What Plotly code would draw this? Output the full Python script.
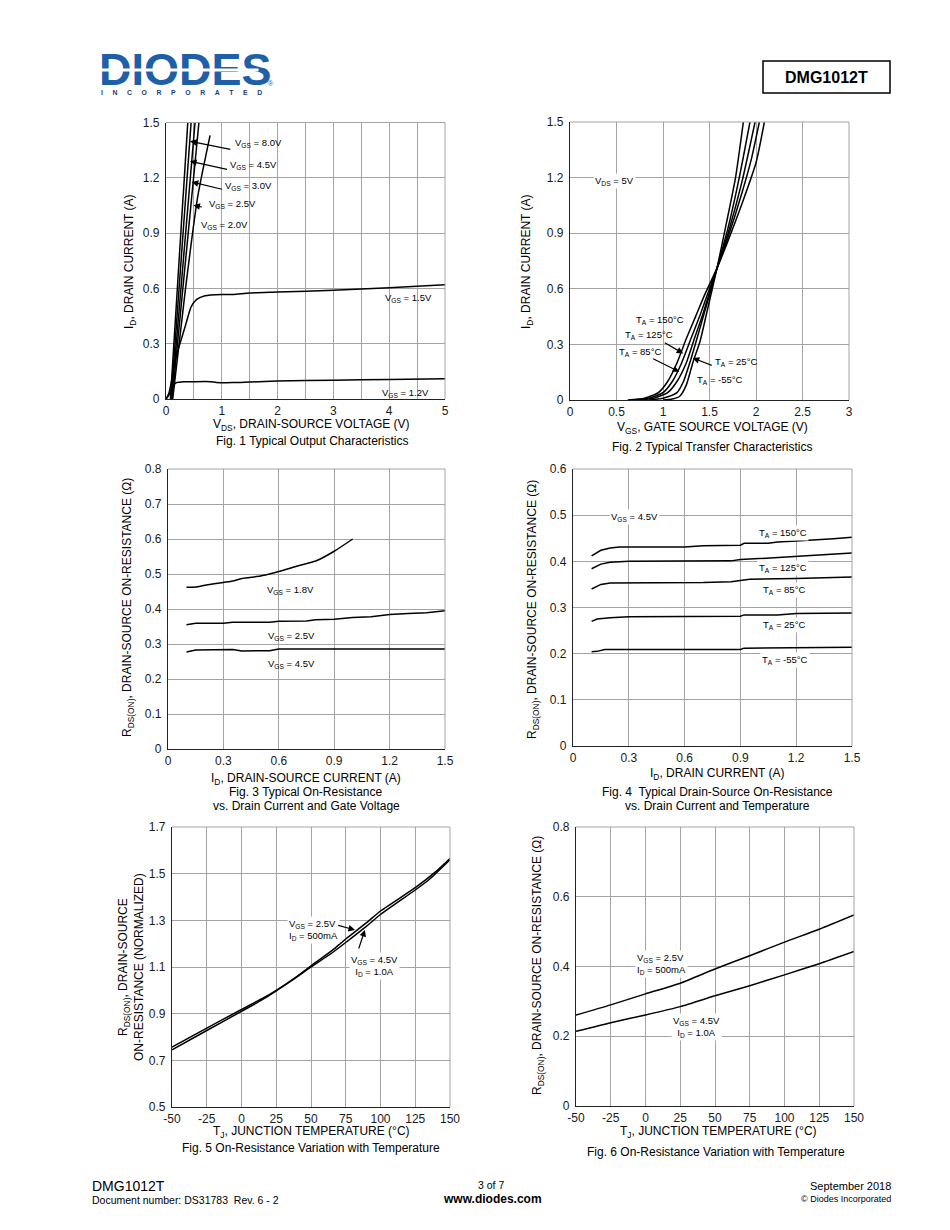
import plotly.graph_objects as go

W, H = 950, 1230
FONT = "Liberation Sans, Arial, Helvetica, sans-serif"

# ---------------- Fig 1 data: output characteristics ----------------
f1_vgs80_v = [0.08, 0.39]
f1_vgs80_i = [0.0, 1.5]
f1_vgs45_v = [0.09, 0.45]
f1_vgs45_i = [0.0, 1.5]
f1_vgs30_v = [0.10, 0.52]
f1_vgs30_i = [0.0, 1.5]
f1_vgs25_v = [0.11, 0.59]
f1_vgs25_i = [0.0, 1.5]
f1_vgs20_v = [0.12, 0.35, 0.57, 0.79]
f1_vgs20_i = [0.0, 0.6, 1.1, 1.43]
f1_vgs15_v = [0.0, 0.05, 0.1, 0.15, 0.25, 0.35, 0.45, 0.55, 0.7, 1.0, 1.2, 1.5, 2.0, 3.0, 4.0, 5.0]
f1_vgs15_i = [0.0, 0.03, 0.1, 0.2, 0.3, 0.4, 0.5, 0.54, 0.56, 0.567, 0.567, 0.575, 0.58, 0.59, 0.603, 0.62]
f1_vgs12_v = [0.0, 0.05, 0.1, 0.15, 0.2, 0.3, 0.5, 0.8, 0.9, 1.2, 1.5, 2.0, 3.0, 4.0, 5.0]
f1_vgs12_i = [0.0, 0.02, 0.05, 0.08, 0.09, 0.093, 0.094, 0.094, 0.09, 0.089, 0.092, 0.097, 0.102, 0.106, 0.11]

# ---------------- Fig 2 data: transfer characteristics ----------------
f2_150_v = [0.62, 0.8, 0.95, 1.05, 1.15, 1.25, 1.35, 1.45, 1.58, 1.7, 1.85, 2.0, 2.09]
f2_150_i = [0.0, 0.01, 0.04, 0.1, 0.2, 0.33, 0.45, 0.57, 0.71, 0.86, 1.06, 1.28, 1.5]
f2_125_v = [0.7, 0.85, 1.0, 1.1, 1.2, 1.3, 1.4, 1.5, 1.58, 1.7, 1.85, 1.95, 2.036]
f2_125_i = [0.0, 0.01, 0.04, 0.1, 0.2, 0.33, 0.46, 0.6, 0.71, 0.88, 1.12, 1.3, 1.5]
f2_85_v = [0.75, 0.9, 1.05, 1.15, 1.25, 1.33, 1.42, 1.5, 1.58, 1.7, 1.85, 1.99]
f2_85_i = [0.0, 0.01, 0.04, 0.1, 0.2, 0.32, 0.45, 0.58, 0.71, 0.9, 1.18, 1.5]
f2_25_v = [0.85, 1.0, 1.15, 1.22, 1.3, 1.37, 1.45, 1.52, 1.58, 1.7, 1.82, 1.935]
f2_25_i = [0.0, 0.01, 0.04, 0.1, 0.22, 0.34, 0.48, 0.6, 0.71, 0.93, 1.2, 1.5]
f2_m55_v = [1.0, 1.1, 1.18, 1.25, 1.32, 1.4, 1.47, 1.53, 1.58, 1.68, 1.78, 1.864]
f2_m55_i = [0.0, 0.005, 0.02, 0.08, 0.2, 0.32, 0.47, 0.6, 0.71, 0.95, 1.2, 1.5]

# ---------------- Fig 3 data: RDS(on) vs ID and VGS ----------------
f3_18_i = [0.1, 0.15, 0.2, 0.3, 0.35, 0.4, 0.5, 0.55, 0.6, 0.7, 0.8, 0.9, 1.0]
f3_18_r = [0.462, 0.463, 0.468, 0.476, 0.48, 0.487, 0.494, 0.5, 0.507, 0.523, 0.537, 0.565, 0.6]
f3_25_i = [0.1, 0.15, 0.3, 0.35, 0.55, 0.6, 0.75, 0.8, 0.9, 1.0, 1.1, 1.2, 1.3, 1.4, 1.5]
f3_25_r = [0.355, 0.359, 0.359, 0.362, 0.362, 0.365, 0.366, 0.369, 0.371, 0.376, 0.378, 0.384, 0.387, 0.389, 0.395]
f3_45_i = [0.1, 0.15, 0.35, 0.4, 0.55, 0.6, 1.5]
f3_45_r = [0.277, 0.283, 0.284, 0.28, 0.281, 0.286, 0.286]

# ---------------- Fig 4 data: RDS(on) vs ID and temperature ----------------
f4_150_i = [0.1, 0.15, 0.2, 0.25, 0.6, 0.7, 0.9, 0.92, 1.05, 1.1, 1.2, 1.3, 1.4, 1.5]
f4_150_r = [0.412, 0.424, 0.429, 0.431, 0.431, 0.434, 0.435, 0.439, 0.439, 0.442, 0.444, 0.446, 0.449, 0.452]
f4_125_i = [0.1, 0.15, 0.2, 0.3, 0.85, 0.9, 1.0, 1.1, 1.3, 1.5]
f4_125_r = [0.384, 0.394, 0.398, 0.4, 0.401, 0.404, 0.406, 0.408, 0.413, 0.418]
f4_85_i = [0.1, 0.15, 0.2, 0.7, 0.85, 0.9, 0.95, 1.2, 1.5]
f4_85_r = [0.34, 0.35, 0.353, 0.354, 0.356, 0.358, 0.361, 0.363, 0.366]
f4_25_i = [0.1, 0.13, 0.2, 0.3, 0.9, 0.92, 1.1, 1.2, 1.5]
f4_25_r = [0.27, 0.275, 0.278, 0.28, 0.281, 0.284, 0.284, 0.287, 0.288]
f4_m55_i = [0.1, 0.13, 0.17, 0.9, 0.92, 1.5]
f4_m55_r = [0.204, 0.205, 0.209, 0.209, 0.212, 0.214]

# ---------------- Fig 5 data: normalized RDS(on) vs TJ ----------------
f5_25_t = [-50, -25, 0, 15, 25, 40, 50, 65, 75, 90, 100, 125, 140, 150]
f5_25_r = [0.757, 0.838, 0.918, 0.965, 1.0, 1.06, 1.105, 1.17, 1.22, 1.29, 1.34, 1.44, 1.51, 1.565]
f5_45_t = [-50, -25, 0, 15, 25, 40, 50, 65, 75, 90, 100, 125, 135, 150]
f5_45_r = [0.745, 0.828, 0.91, 0.96, 0.998, 1.058, 1.1, 1.16, 1.205, 1.275, 1.325, 1.43, 1.475, 1.56]

# ---------------- Fig 6 data: RDS(on) vs TJ ----------------
f6_t = [-50, -25, 0, 25, 50, 75, 100, 125, 150]
f6_25_r = [0.261, 0.29, 0.3215, 0.352, 0.393, 0.431, 0.47, 0.507, 0.548]
f6_45_r = [0.214, 0.239, 0.261, 0.285, 0.316, 0.345, 0.376, 0.408, 0.443]

# ---------------- tick labels ----------------
f1_xticks = [0, 1, 2, 3, 4, 5]
f1_xlabels = ["0", "1", "2", "3", "4", "5"]
f1_yticks = [0, 0.3, 0.6, 0.9, 1.2, 1.5]
f1_ylabels = ["0", "0.3", "0.6", "0.9", "1.2", "1.5"]
f2_xticks = [0, 0.5, 1, 1.5, 2, 2.5, 3]
f2_xlabels = ["0", "0.5", "1", "1.5", "2", "2.5", "3"]
f3_xticks = [0, 0.3, 0.6, 0.9, 1.2, 1.5]
f3_xlabels = ["0", "0.3", "0.6", "0.9", "1.2", "1.5"]
f3_yticks = [0, 0.1, 0.2, 0.3, 0.4, 0.5, 0.6, 0.7, 0.8]
f3_ylabels = ["0", "0.1", "0.2", "0.3", "0.4", "0.5", "0.6", "0.7", "0.8"]
f4_yticks = [0, 0.1, 0.2, 0.3, 0.4, 0.5, 0.6]
f4_ylabels = ["0", "0.1", "0.2", "0.3", "0.4", "0.5", "0.6"]
t_ticks = [-50, -25, 0, 25, 50, 75, 100, 125, 150]
t_labels = ["-50", "-25", "0", "25", "50", "75", "100", "125", "150"]
f5_yticks = [0.5, 0.7, 0.9, 1.1, 1.3, 1.5, 1.7]
f5_ylabels = ["0.5", "0.7", "0.9", "1.1", "1.3", "1.5", "1.7"]
f6_yticks = [0, 0.2, 0.4, 0.6, 0.8]
f6_ylabels = ["0", "0.2", "0.4", "0.6", "0.8"]

# plot areas in page pixels (x0, x1, y0top, y1bottom)
DOMS = {
    1: (166, 445, 122.5, 399),
    2: (570, 849, 122, 400),
    3: (168, 445, 469, 749),
    4: (573, 852, 469, 746),
    5: (172, 450, 827, 1107),
    6: (576, 854, 827, 1106),
}

fig = go.Figure()
LW = 1.5


def ref(i):
    return ("x" if i == 1 else f"x{i}"), ("y" if i == 1 else f"y{i}")


def add_line(i, xs, ys, shape="spline"):
    xr, yr = ref(i)
    fig.add_trace(go.Scatter(x=xs, y=ys, mode="lines", xaxis=xr, yaxis=yr,
                             line=dict(color="black", width=LW, shape=shape, smoothing=0.6),
                             showlegend=False, hoverinfo="skip"))


add_line(1, f1_vgs80_v, f1_vgs80_i, "linear")
add_line(1, f1_vgs45_v, f1_vgs45_i, "linear")
add_line(1, f1_vgs30_v, f1_vgs30_i, "linear")
add_line(1, f1_vgs25_v, f1_vgs25_i, "linear")
add_line(1, f1_vgs20_v, f1_vgs20_i)
add_line(1, f1_vgs15_v, f1_vgs15_i)
add_line(1, f1_vgs12_v, f1_vgs12_i)

add_line(2, f2_150_v, f2_150_i)
add_line(2, f2_125_v, f2_125_i)
add_line(2, f2_85_v, f2_85_i)
add_line(2, f2_25_v, f2_25_i)
add_line(2, f2_m55_v, f2_m55_i)

add_line(3, f3_18_i, f3_18_r)
add_line(3, f3_25_i, f3_25_r, "linear")
add_line(3, f3_45_i, f3_45_r, "linear")

add_line(4, f4_150_i, f4_150_r, "linear")
add_line(4, f4_125_i, f4_125_r, "linear")
add_line(4, f4_85_i, f4_85_r, "linear")
add_line(4, f4_25_i, f4_25_r, "linear")
add_line(4, f4_m55_i, f4_m55_r, "linear")

add_line(5, f5_25_t, f5_25_r)
add_line(5, f5_45_t, f5_45_r)

add_line(6, f6_t, f6_25_r)
add_line(6, f6_t, f6_45_r)

GRID = "#a3a3a3"
TICKFONT = dict(family=FONT, size=12, color="#1a1a1a")


def axis_pair(i, xr, yr, xt, xl, yt, yl, xminor=None):
    x0, x1, yt0, yb = DOMS[i]
    common = dict(showgrid=True, gridcolor=GRID, gridwidth=1, showline=True, linecolor="#222",
                  linewidth=1.2, ticks="", zeroline=False, tickfont=TICKFONT, fixedrange=True,
                  automargin=False)
    xa = dict(domain=[x0 / W, x1 / W], range=xr, tickvals=xt, ticktext=xl, anchor=ref(i)[1],
              ticklabelstandoff=0, **common)
    if xminor is not None:
        xa["minor"] = dict(dtick=xminor, tick0=0, showgrid=True, gridcolor=GRID, gridwidth=1, ticks="")
    ya = dict(domain=[1 - yb / H, 1 - yt0 / H], range=yr, tickvals=yt, ticktext=yl, anchor=ref(i)[0],
              ticklabelstandoff=3, **common)
    kx = "xaxis" if i == 1 else f"xaxis{i}"
    ky = "yaxis" if i == 1 else f"yaxis{i}"
    fig.update_layout(**{kx: xa, ky: ya})


axis_pair(1, [0, 5], [0, 1.5], f1_xticks, f1_xlabels, f1_yticks, f1_ylabels, xminor=0.5)
axis_pair(2, [0, 3], [0, 1.5], f2_xticks, f2_xlabels, f1_yticks, f1_ylabels)
axis_pair(3, [0, 1.5], [0, 0.8], f3_xticks, f3_xlabels, f3_yticks, f3_ylabels)
axis_pair(4, [0, 1.5], [0, 0.6], f3_xticks, f3_xlabels, f4_yticks, f4_ylabels)
axis_pair(5, [-50, 150], [0.5, 1.7], t_ticks, t_labels, f5_yticks, f5_ylabels)
axis_pair(6, [-50, 150], [0, 0.8], t_ticks, t_labels, f6_yticks, f6_ylabels)

shapes = []
for i in range(1, 7):
    xr, yr = ref(i)
    shapes.append(dict(type="line", xref=f"{xr} domain", yref=f"{yr} domain", x0=0, x1=1, y0=1, y1=1,
                       line=dict(color=GRID, width=1)))
    shapes.append(dict(type="line", xref=f"{xr} domain", yref=f"{yr} domain", x0=1, x1=1, y0=0, y1=1,
                       line=dict(color=GRID, width=1)))
# part number box
shapes.append(dict(type="rect", xref="paper", yref="paper", x0=763 / W, x1=890 / W,
                   y0=1 - 93 / H, y1=1 - 61 / H, line=dict(color="black", width=1.5)))

ann = []
SMALL = 9.5


def txt(i, x, y, s, xanchor="left", bg=None, align="left"):
    xr, yr = ref(i)
    d = dict(x=x, y=y, xref=xr, yref=yr, text=s, showarrow=False, xanchor=xanchor, yanchor="middle",
             font=dict(family=FONT, size=SMALL, color="black"), align=align)
    if bg:
        d["bgcolor"] = bg
        d["borderpad"] = 1
    ann.append(d)


def arrow(i, hx, hy, tx, ty):
    xr, yr = ref(i)
    ann.append(dict(x=hx, y=hy, ax=tx, ay=ty, xref=xr, yref=yr, axref=xr, ayref=yr, text="",
                    showarrow=True, arrowhead=2, arrowsize=1.1, arrowwidth=1.2, arrowcolor="black"))


# Fig 1 labels
arrow(1, 0.43, 1.398, 1.18, 1.353)
arrow(1, 0.43, 1.29, 1.12, 1.244)
arrow(1, 0.46, 1.177, 1.03, 1.136)
arrow(1, 0.49, 1.051, 0.67, 1.04)
txt(1, 1.195, 1.389, "V<sub>GS</sub> = 8.0V")
txt(1, 1.11, 1.271, "V<sub>GS</sub> = 4.5V")
txt(1, 1.02, 1.157, "V<sub>GS</sub> = 3.0V")
txt(1, 0.73, 1.058, "V<sub>GS</sub> = 2.5V")
txt(1, 0.59, 0.944, "V<sub>GS</sub> = 2.0V")
txt(1, 3.89, 0.548, "V<sub>GS</sub> = 1.5V")
txt(1, 3.83, 0.03, "V<sub>GS</sub> = 1.2V")

# Fig 2 labels
txt(2, 0.25, 1.18, "V<sub>DS</sub> = 5V", bg="white")
arrow(2, 1.218, 0.251, 1.003, 0.313)
arrow(2, 1.175, 0.152, 0.878, 0.227)
arrow(2, 1.319, 0.227, 1.54, 0.184)
txt(2, 0.97, 0.43, "T<sub>A</sub> = 150°C", xanchor="center")
txt(2, 0.85, 0.35, "T<sub>A</sub> = 125°C", xanchor="center")
txt(2, 0.75, 0.258, "T<sub>A</sub> = 85°C", xanchor="center")
txt(2, 1.78, 0.204, "T<sub>A</sub> = 25°C", xanchor="center")
txt(2, 1.61, 0.108, "T<sub>A</sub> = -55°C", xanchor="center")

# Fig 3 labels
txt(3, 0.663, 0.454, "V<sub>GS</sub> = 1.8V", xanchor="center")
txt(3, 0.67, 0.324, "V<sub>GS</sub> = 2.5V", xanchor="center")
txt(3, 0.67, 0.243, "V<sub>GS</sub> = 4.5V", xanchor="center")

# Fig 4 labels
txt(4, 0.33, 0.496, "V<sub>GS</sub> = 4.5V", xanchor="center", bg="white")
txt(4, 1.13, 0.461, "T<sub>A</sub> = 150°C", xanchor="center", bg="white")
txt(4, 1.13, 0.385, "T<sub>A</sub> = 125°C", xanchor="center", bg="white")
txt(4, 1.133, 0.338, "T<sub>A</sub> = 85°C", xanchor="center", bg="white")
txt(4, 1.133, 0.263, "T<sub>A</sub> = 25°C", xanchor="center", bg="white")
txt(4, 1.14, 0.186, "T<sub>A</sub> = -55°C", xanchor="center", bg="white")

# Fig 5 labels
txt(5, 32.5, 1.259, "V<sub>GS</sub> = 2.5V<br>I<sub>D</sub> = 500mA", bg="white")
arrow(5, 81.7, 1.259, 68.5, 1.28)
txt(5, 96, 1.104, "V<sub>GS</sub> = 4.5V<br>I<sub>D</sub> = 1.0A", xanchor="center", bg="white", align="center")
arrow(5, 88.8, 1.259, 84, 1.173)

# Fig 6 labels
txt(6, -7.6, 0.407, "V<sub>GS</sub> = 2.5V<br>I<sub>D</sub> = 500mA", bg="white")
txt(6, 36.8, 0.227, "V<sub>GS</sub> = 4.5V<br>I<sub>D</sub> = 1.0A", xanchor="center", bg="white", align="center")


def ptxt(x, y, s, size=12, xanchor="center", angle=0, bold=False, color="black", family=FONT, align="center"):
    ann.append(dict(x=x / W, y=1 - y / H, xref="paper", yref="paper", text=(f"<b>{s}</b>" if bold else s),
                    showarrow=False, xanchor=xanchor, yanchor="middle", textangle=angle, align=align,
                    font=dict(family=family, size=size, color=color)))


# axis titles
ptxt(311, 425, "V<sub>DS</sub>, DRAIN-SOURCE VOLTAGE (V)")
ptxt(130, 262, "I<sub>D</sub>, DRAIN CURRENT (A)", angle=-90)
ptxt(712, 428, "V<sub>GS</sub>, GATE SOURCE VOLTAGE (V)")
ptxt(527, 262, "I<sub>D</sub>, DRAIN CURRENT (A)", angle=-90)
ptxt(306, 779, "I<sub>D</sub>, DRAIN-SOURCE CURRENT (A)")
ptxt(128, 608, "R<sub>DS(ON)</sub>, DRAIN-SOURCE ON-RESISTANCE (Ω)", angle=-90)
ptxt(717, 774, "I<sub>D</sub>, DRAIN CURRENT (A)")
ptxt(533, 610, "R<sub>DS(ON)</sub>, DRAIN-SOURCE ON-RESISTANCE (Ω)", angle=-90)
ptxt(311, 1131.5, "T<sub>J</sub>, JUNCTION TEMPERATURE (°C)")
ptxt(131, 967, "R<sub>DS(ON)</sub>, DRAIN-SOURCE<br>ON-RESISTANCE (NORMALIZED)", angle=-90)
ptxt(718, 1132, "T<sub>J</sub>, JUNCTION TEMPERATURE (°C)")
ptxt(538, 966, "R<sub>DS(ON)</sub>, DRAIN-SOURCE ON-RESISTANCE (Ω)", angle=-90)

# captions
ptxt(312, 441, "Fig. 1 Typical Output Characteristics")
ptxt(712, 446.5, "Fig. 2 Typical Transfer Characteristics")
ptxt(306, 792, "Fig. 3 Typical On-Resistance")
ptxt(306, 806.5, "vs. Drain Current and Gate Voltage")
ptxt(717, 791.5, "Fig. 4  Typical Drain-Source On-Resistance")
ptxt(717, 806, "vs. Drain Current and Temperature")
ptxt(311, 1148, "Fig. 5 On-Resistance Variation with Temperature")
ptxt(716, 1151.5, "Fig. 6 On-Resistance Variation with Temperature")

# header
BLUE = "#1f5fa8"
ptxt(97, 70, "DIODES", size=45, xanchor="left", bold=True, color=BLUE)
ann.append(dict(x=97 / W, y=1 - 69.5 / H, xref="paper", yref="paper", text="", showarrow=False,
                xanchor="left", yanchor="middle", width=160, height=2, bgcolor="white", borderpad=0))
ptxt(266, 83, "®", size=7, xanchor="left", color=BLUE)
NB = "&nbsp;" * 5
ptxt(99, 92, NB.join(list("INCORPORATED")), size=6.9, xanchor="left", bold=True, color="#1b3f73")
ptxt(826.5, 77.5, "DMG1012T", size=16, bold=True)

# footer
ptxt(90, 1186, "DMG1012T", size=14, xanchor="left")
ptxt(90, 1200, "Document number: DS31783  Rev. 6 - 2", size=10.5, xanchor="left")
ptxt(491, 1185, "3 of 7", size=10.5)
ptxt(492, 1199, "www.diodes.com", size=12, bold=True)
ptxt(893, 1186, "September 2018", size=11, xanchor="right")
ptxt(893, 1199, "© Diodes Incorporated", size=9, xanchor="right")

fig.update_layout(width=W, height=H, margin=dict(l=0, r=0, t=0, b=0, pad=0, autoexpand=False),
                  paper_bgcolor="white", plot_bgcolor="white", annotations=ann, shapes=shapes,
                  showlegend=False, font=dict(family=FONT))

fig.write_html("out.html", config={"displayModeBar": False},
               post_script="document.body.style.margin='0';document.body.style.padding='0';"
                           "document.documentElement.style.overflow='hidden';")
